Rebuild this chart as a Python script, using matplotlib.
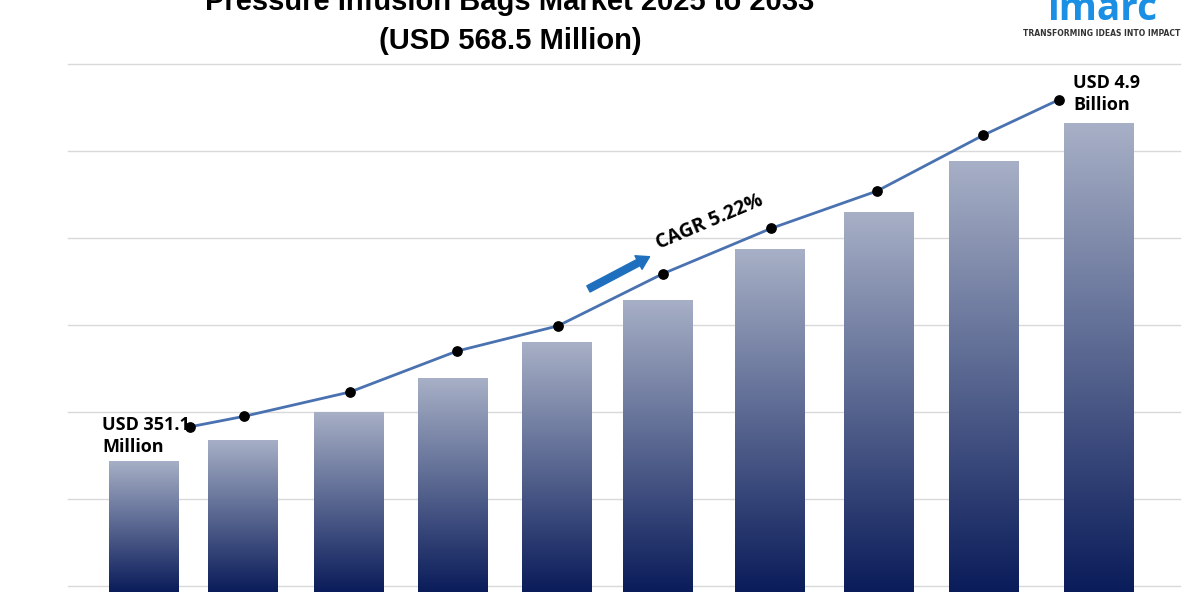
import matplotlib
matplotlib.use("Agg")
import matplotlib.pyplot as plt
import numpy as np
from matplotlib.colors import LinearSegmentedColormap

bar_x = [144, 243, 349, 453, 557, 658, 770, 879, 984, 1099]
bar_h = [1.44, 1.68, 2.00, 2.39, 2.80, 3.29, 3.87, 4.30, 4.89, 5.32]
line_x = [190, 244, 350, 457, 558, 663, 771, 877, 983, 1059]
line_y = [1.83, 1.95, 2.23, 2.70, 2.99, 3.59, 4.11, 4.54, 5.18, 5.59]
grid_vals = [0, 1, 2, 3, 4, 5, 6]

fig = plt.figure(figsize=(12, 6), dpi=100)
ax = fig.add_axes([0, 0, 1, 1])
ax.set_xlim(0, 1200)
ax.set_ylim(-14/87, 586/87)
ax.axis("off")

for g in grid_vals:
    ax.plot([68, 1180], [g, g], color="#d9d9d9", lw=1, zorder=0)

cmap = LinearSegmentedColormap.from_list("b", ["#0a1c5a", "#a7b0c6"])
grad = np.linspace(0, 1, 256).reshape(-1, 1)
base = -6/87
for x, h in zip(bar_x, bar_h):
    w = 70
    im = ax.imshow(grad, cmap=cmap, origin="lower", aspect="auto",
                   extent=[x - w/2, x + w/2, base, h], zorder=1)
    r = plt.Rectangle((x - w/2, base), w, h - base, transform=ax.transData, fc="none", ec="none")
    ax.add_patch(r)
    im.set_clip_path(r)

ax.plot(line_x, line_y, color="#4a72b0", lw=2, zorder=3)
ax.scatter(line_x, line_y, color="black", s=45, zorder=4)

fs = dict(fontfamily="Open Sans", fontweight="bold", color="black")
ax.text(102, 1.95, "USD 351.1\nMillion", fontsize=13, va="top", ha="left", linespacing=1.25, **fs)
ax.text(1073, 5.88, "USD 4.9\nBillion", fontsize=13, va="top", ha="left", linespacing=1.25, **fs)
ax.text(653, 3.82, "CAGR 5.22%", fontsize=14, rotation=23, ha="left", va="bottom", **fs)
ax.annotate("", xy=(652, 3.8), xytext=(586, 3.4),
            arrowprops=dict(arrowstyle="simple,head_width=1.1,head_length=0.9,tail_width=0.5",
                            color="#1f6fbf"))

fig.text(510, 600 - 2, "Pressure Infusion Bags Market 2025 to 2033", transform=None,
         fontsize=21, fontweight="bold", ha="center", va="center", fontfamily="Liberation Sans")
fig.text(510, 600 - 41, "(USD 568.5 Million)", transform=None,
         fontsize=21, fontweight="bold", ha="center", va="center", fontfamily="Liberation Sans")
fig.text(1102, 600 - 9, "imarc", transform=None, fontsize=28, fontweight="bold",
         color="#1a8fe3", ha="center", va="center", fontfamily="Open Sans")
fig.text(1102, 600 - 33, "TRANSFORMING IDEAS INTO IMPACT", transform=None, fontsize=5.5,
         fontweight="bold", color="#333333", ha="center", va="center")

fig.savefig("out.png", dpi=100)
